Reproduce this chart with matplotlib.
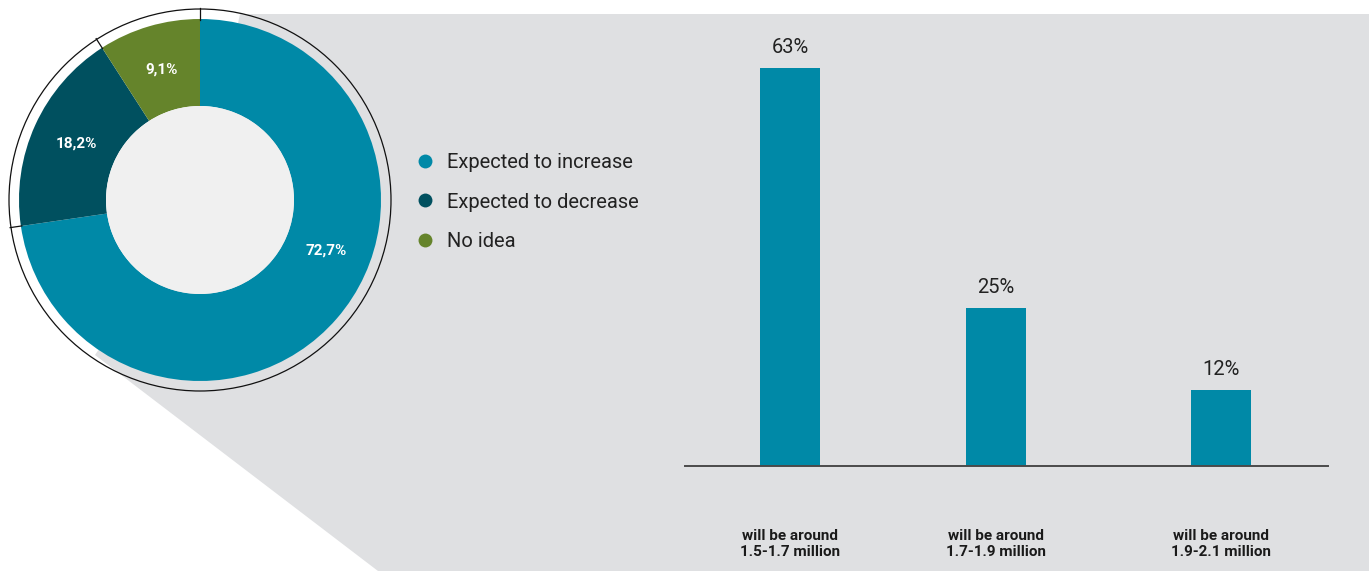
import matplotlib
matplotlib.use("Agg")
import matplotlib.pyplot as plt
from matplotlib.patches import Polygon, Circle
from matplotlib.lines import Line2D
import numpy as np

plt.rcParams['font.family'] = ['Roboto', 'DejaVu Sans']

# ---- data ----
donut_labels = ['Expected to increase', 'Expected to decrease', 'No idea']
donut_values = [72.7, 18.2, 9.1]
bar_categories = ['will be around\n1.5-1.7 million',
                  'will be around\n1.7-1.9 million',
                  'will be around\n1.9-2.1 million']
bar_values = [63, 25, 12]

# ---- style ----
C_INC = '#0089a7'
C_DEC = '#00505f'
C_NO = '#65842b'
BG = '#dfe0e2'
HOLE = '#f0f0f0'
colors = [C_INC, C_DEC, C_NO]

W, H = 1369, 571
fig = plt.figure(figsize=(W / 100, H / 100), dpi=100)
fig.patch.set_facecolor('white')

# background layer in pixel coordinates
bg = fig.add_axes([0, 0, 1, 1])
bg.set_xlim(0, W)
bg.set_ylim(H, 0)
bg.axis('off')
bg.add_patch(Polygon([(200, 200), (240, 14), (W, 14), (W, H), (378, H), (95, 355)],
                     closed=True, facecolor=BG, edgecolor='none'))

# ---- donut ----
cx, cy, R = 200, 200, 181
pax = fig.add_axes([(cx - R) / W, (H - cy - R) / H, 2 * R / W, 2 * R / H])
pax.patch.set_visible(False)
wedges, _ = pax.pie(donut_values, colors=colors, startangle=90, counterclock=False,
                    radius=1.0, wedgeprops=dict(width=1 - 94 / R, linewidth=0))
pax.set_xlim(-1, 1)
pax.set_ylim(-1, 1)
pax.set_aspect('equal')
pax.add_patch(Circle((0, 0), 94 / R, facecolor=HOLE, edgecolor='none', zorder=3))
pax.add_patch(Circle((0, 0), 191 / R, facecolor='none', edgecolor='#111111',
                     linewidth=0.9, clip_on=False, zorder=4))
# boundary ticks on outer ring
total = sum(donut_values)
cum = 0.0
angles = []
for v in donut_values:
    angles.append(90 - 360 * cum / total)
    cum += v
for a in angles:
    t = np.deg2rad(a)
    pax.plot([0.995 * np.cos(t), 1.06 * np.cos(t)], [0.995 * np.sin(t), 1.06 * np.sin(t)],
             color='#111111', lw=0.9, clip_on=False, zorder=4)
# labels
label_angle_override = {0: -22}
cum = 0.0
for i, v in enumerate(donut_values):
    mid = 90 - 360 * (cum + v / 2) / total
    cum += v
    a = np.deg2rad(label_angle_override.get(i, mid))
    r = 0.75
    pax.text(r * np.cos(a), r * np.sin(a), f"{v:.1f}".replace('.', ',') + '%',
             color='white', fontsize=11, fontweight='bold', ha='center', va='center', zorder=5)

# legend
handles = [Line2D([], [], linestyle='none', marker='o', markersize=10,
                  markerfacecolor=c, markeredgecolor='none') for c in colors]
fig.legend(handles, donut_labels, loc='center left',
           bbox_to_anchor=(415 / W, 1 - 202 / H), frameon=False,
           fontsize=14.5, labelcolor='#222222', handlelength=1.0, handletextpad=0.6,
           labelspacing=1.0, borderaxespad=0, borderpad=0)

# ---- bars ----
x0, x1, ybase, ytop = 685, 1328, 466, 14
bax = fig.add_axes([x0 / W, (H - ybase) / H, (x1 - x0) / W, (ybase - ytop) / H])
bax.patch.set_visible(False)
bar_pos = [0, 1, 2.09]
unit = 206
bax.set_xlim((x0 - 790) / unit, (x1 - 790) / unit)
bax.set_ylim(0, (ybase - ytop) / 6.32)
bars = bax.bar(bar_pos, bar_values, width=60 / unit, color=C_INC)
bax.bar_label(bars, labels=[f"{v}%" for v in bar_values], padding=8,
              fontsize=14.5, color='#222222')
for s in ['top', 'right', 'left']:
    bax.spines[s].set_visible(False)
bax.spines['bottom'].set_color('#4a4a4a')
bax.spines['bottom'].set_linewidth(1.4)
bax.set_yticks([])
bax.set_xticks(bar_pos)
bax.set_xticklabels(bar_categories, fontsize=11, fontweight='bold', color='#1a1a1a',
                    linespacing=1.22)
bax.tick_params(axis='x', length=0, pad=45)

fig.savefig('out.png', dpi=100, facecolor='white')
